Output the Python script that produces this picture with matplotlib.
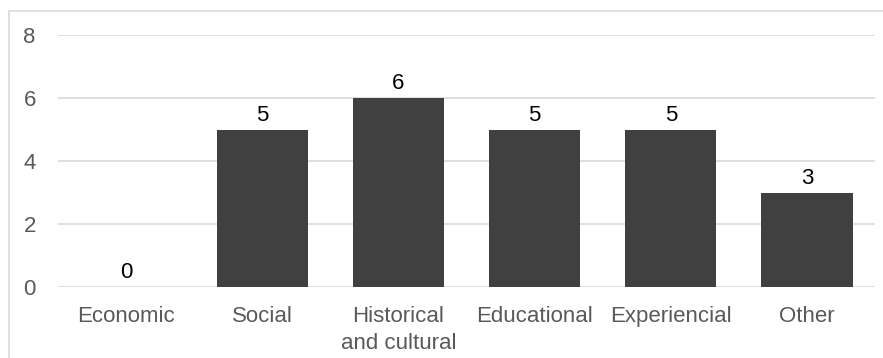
import matplotlib.pyplot as plt
from matplotlib.patches import Rectangle

categories = ["Economic", "Social", "Historical\nand cultural", "Educational", "Experiencial", "Other"]
counts = [0, 5, 6, 5, 5, 3]
y_ticks = [0, 2, 4, 6, 8]

plt.rcParams['font.family'] = ['Liberation Sans', 'DejaVu Sans']

fig = plt.figure(figsize=(8.83, 3.58), dpi=100)
ax = fig.add_axes([58 / 883, 1 - 287 / 358, (875 - 58) / 883, (287 - 35) / 358])

# chart border (cropped on right and bottom in the original)
fig.patches.append(Rectangle((9 / 883, -0.1), 1.2, 1 - 11 / 358 + 0.1,
                             transform=fig.transFigure, fill=False,
                             edgecolor='#d9d9d9', linewidth=1.2))

x = range(len(categories))
bars = ax.bar(x, counts, width=0.67, color='#404040', zorder=3)
for b, v in zip(bars, counts):
    ax.text(b.get_x() + b.get_width() / 2, v + 0.12, str(v),
            ha='center', va='bottom', fontsize=16, color='black')

ax.set_xlim(-0.5, len(categories) - 0.5)
ax.set_ylim(0, 8)
ax.set_yticks(y_ticks)
ax.set_xticks(list(x))
ax.set_xticklabels(categories, fontsize=16, color='#595959', linespacing=1.35)
ax.tick_params(axis='y', labelsize=16, labelcolor='#595959', length=0, pad=16)
ax.tick_params(axis='x', length=0, pad=14)
ax.grid(axis='y', color='#d9d9d9', linewidth=1.2, zorder=0)
for s in ax.spines.values():
    s.set_visible(False)

plt.savefig('out.png', dpi=100)
